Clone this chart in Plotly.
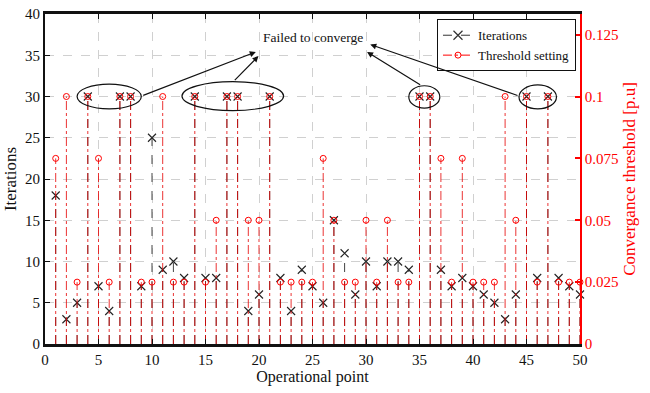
import plotly.graph_objects as go

points = list(range(1, 51))
iterations = [18, 3, 5, 30, 7, 4, 30, 30, 7, 25,
              9, 10, 8, 30, 8, 8, 30, 30, 4, 6,
              30, 8, 4, 9, 7, 5, 15, 11, 6, 10,
              7, 10, 10, 9, 30, 30, 9, 7, 8, 7,
              6, 5, 3, 6, 30, 8, 30, 8, 7, 6]
threshold = [0.075, 0.1, 0.025, 0.1, 0.075, 0.025, 0.1, 0.1, 0.025, 0.025,
             0.1, 0.025, 0.025, 0.1, 0.025, 0.05, 0.1, 0.1, 0.05, 0.05,
             0.1, 0.025, 0.025, 0.025, 0.025, 0.075, 0.05, 0.025, 0.025, 0.05,
             0.025, 0.05, 0.025, 0.025, 0.1, 0.1, 0.075, 0.025, 0.075, 0.025,
             0.025, 0.025, 0.1, 0.05, 0.1, 0.025, 0.1, 0.025, 0.025, 0.025]
x_ticks = [0, 5, 10, 15, 20, 25, 30, 35, 40, 45, 50]
y_ticks = [0, 5, 10, 15, 20, 25, 30, 35, 40]
y2_ticks = [0, 0.025, 0.05, 0.075, 0.1, 0.125]
y2_labels = ["0", "0.025", "0.05", "0.075", "0.1", "0.125"]

# groups of failed points (ellipses): x0, x1, y0, y1
ellipses = [(3.0, 9.0, 28.5, 31.5), (12.8, 22.3, 28.3, 31.8),
            (34.0, 36.9, 28.6, 31.3), (44.3, 47.8, 28.5, 31.4)]
# arrows: (tail_x, tail_y, head_x, head_y)
arrows = [(9.04, 30.07, 19.7, 35.4), (17.6, 31.8, 19.95, 34.9),
          (35.2, 31.3, 30.1, 35.4), (44.3, 30.06, 30.4, 36.3)]

FONT = "'Liberation Serif', 'Times New Roman', serif"
RED = "#ff0000"


def stems(xs, ys):
    sx, sy = [], []
    for a, b in zip(xs, ys):
        sx += [a, a, None]
        sy += [0, b, None]
    return sx, sy


fig = go.Figure()

sx, sy = stems(points, iterations)
fig.add_trace(go.Scatter(x=sx, y=sy, mode="lines", showlegend=False,
                         line=dict(color="#444444", width=1, dash="dash"),
                         hoverinfo="skip"))
tx, ty = stems(points, threshold)
fig.add_trace(go.Scatter(x=tx, y=ty, mode="lines", showlegend=False, yaxis="y2",
                         line=dict(color="rgba(230,0,0,0.8)", width=1, dash="dashdot"),
                         hoverinfo="skip"))
fig.add_trace(go.Scatter(x=points, y=threshold, mode="markers", yaxis="y2",
                         showlegend=False, cliponaxis=False,
                         marker=dict(symbol="circle-open", size=6,
                                     color=RED, line=dict(width=1, color=RED))))
fig.add_trace(go.Scatter(x=points, y=iterations, mode="markers",
                         showlegend=False, cliponaxis=False,
                         marker=dict(symbol="x-thin-open", size=8,
                                     color="#222222",
                                     line=dict(width=1.1, color="#222222"))))

# legend entries
fig.add_trace(go.Scatter(x=[None], y=[None], mode="lines+markers", name="Iterations",
                         line=dict(color="#333333", width=1, dash="dash"),
                         marker=dict(symbol="x-thin-open", size=9,
                                     line=dict(width=1.2, color="#222222"))))
fig.add_trace(go.Scatter(x=[None], y=[None], mode="lines+markers", name="Threshold setting",
                         yaxis="y2",
                         line=dict(color=RED, width=1, dash="dashdot"),
                         marker=dict(symbol="circle-open", size=6,
                                     line=dict(width=1, color=RED), color=RED)))

shapes = []
for x0, x1, y0, y1 in ellipses:
    shapes.append(dict(type="circle", xref="x", yref="y", x0=x0, x1=x1, y0=y0, y1=y1,
                       line=dict(color="#111111", width=1.2), layer="above"))

annotations = []
for ax, ay, hx, hy in arrows:
    annotations.append(dict(x=hx, y=hy, ax=ax, ay=ay, xref="x", yref="y",
                            axref="x", ayref="y", text="", showarrow=True,
                            arrowhead=2, arrowsize=1, arrowwidth=1.2,
                            arrowcolor="#111111", standoff=0, startstandoff=0))
annotations.append(dict(x=25, y=37.1, xref="x", yref="y", text="Failed to converge",
                        showarrow=False, font=dict(family=FONT, size=13.5, color="#111111")))

fig.update_layout(
    width=650, height=393,
    margin=dict(l=45, r=70, t=14, b=49),
    paper_bgcolor="white", plot_bgcolor="white",
    font=dict(family=FONT, size=15, color="#111111"),
    shapes=shapes, annotations=annotations,
    xaxis=dict(range=[0, 50], tickvals=x_ticks, ticks="inside", ticklen=5,
               tickcolor="#111111", showline=True, linecolor="#111111", linewidth=2.5,
               mirror="ticks", showgrid=True, gridcolor="#d0d0d0", griddash="dash",
               gridwidth=1, zeroline=False, automargin=False,
               title=dict(text="Operational point", font=dict(family=FONT, size=16),
                          standoff=4),
               tickfont=dict(family=FONT, size=15)),
    yaxis=dict(range=[0, 40], tickvals=y_ticks, ticks="inside", ticklen=5,
               tickcolor="#111111", showline=True, linecolor="#111111", linewidth=2,
               showgrid=True, gridcolor="#d0d0d0", griddash="dash", gridwidth=1,
               zeroline=False, automargin=False,
               title=dict(text="Iterations", font=dict(family=FONT, size=17), standoff=4),
               tickfont=dict(family=FONT, size=15)),
    yaxis2=dict(range=[0, 40 / 300], overlaying="y", side="right",
                tickvals=y2_ticks, ticktext=y2_labels, ticks="inside", ticklen=5,
                tickwidth=2, tickcolor=RED, showline=True, linecolor=RED, linewidth=1.5,
                showgrid=False, zeroline=False, automargin=False,
                title=dict(text="Convergance threshold [p.u]",
                           font=dict(family=FONT, size=17, color=RED), standoff=6),
                tickfont=dict(family=FONT, size=15, color=RED)),
    legend=dict(x=0.9925, y=0.984, xanchor="right", yanchor="top",
                bgcolor="white", bordercolor="#111111", borderwidth=1,
                font=dict(family=FONT, size=13), itemwidth=30, tracegroupgap=0),
)

fig.write_html("out.html")
